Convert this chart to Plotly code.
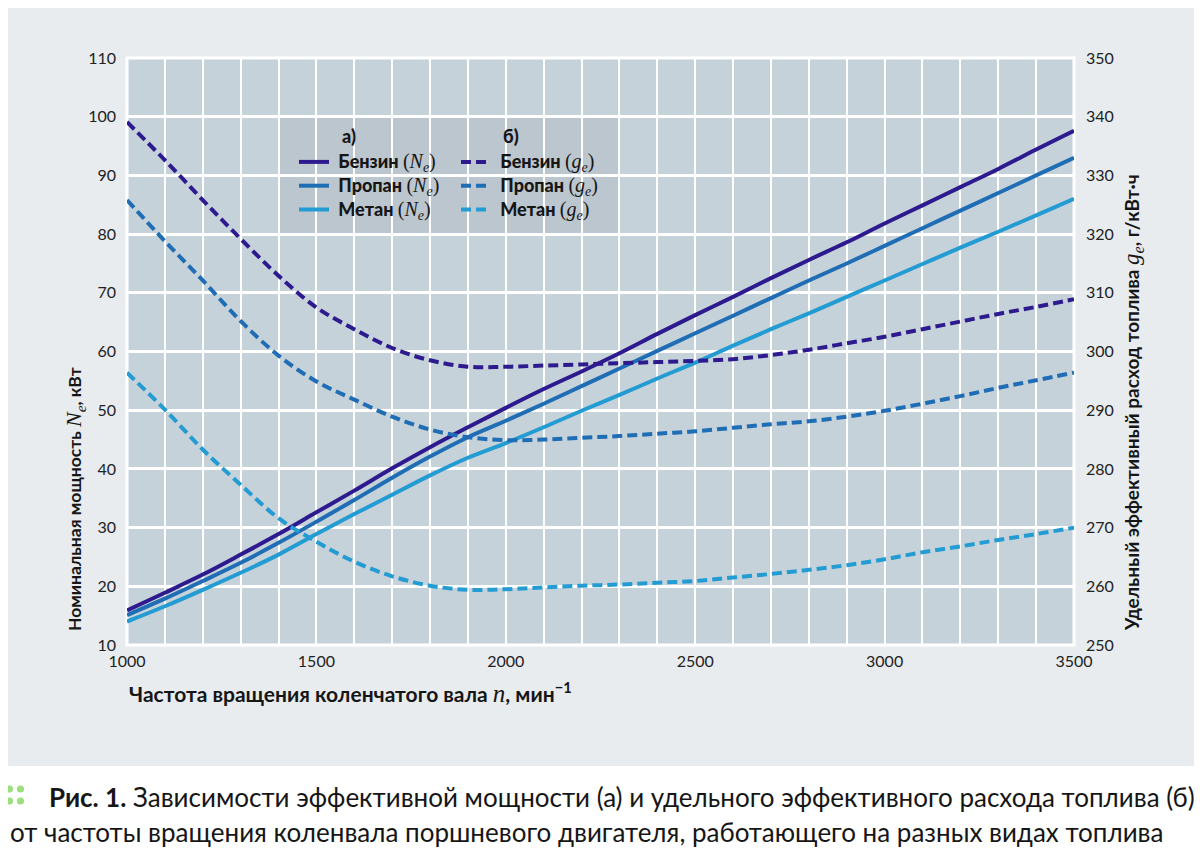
import plotly.graph_objects as go

# ---------------- data ----------------
rpm = [1000, 1100, 1200, 1300, 1400, 1500, 1600, 1700, 1800, 1900, 2000,
       2100, 2200, 2300, 2400, 2500, 2600, 2700, 2800, 2900, 3000,
       3100, 3200, 3300, 3400, 3500]

ne_benzin = [15.9, 18.9, 22.0, 25.4, 28.9, 32.6, 36.3, 40.1, 43.7, 47.1, 50.4,
             53.6, 56.6, 59.7, 63.0, 66.2, 69.3, 72.5, 75.6, 78.6, 81.8,
             84.9, 88.0, 91.1, 94.4, 97.6]
ne_propan = [15.1, 17.9, 20.9, 24.0, 27.4, 31.0, 34.7, 38.5, 42.1, 45.4, 48.2,
             51.1, 54.1, 57.1, 60.1, 63.1, 66.1, 69.1, 72.1, 75.0, 78.0,
             81.0, 84.0, 87.0, 90.0, 93.0]
ne_metan = [14.0, 16.6, 19.4, 22.3, 25.4, 28.9, 32.3, 35.6, 38.9, 41.9, 44.4,
            47.1, 49.9, 52.6, 55.4, 58.1, 61.0, 63.8, 66.5, 69.3, 72.1,
            74.9, 77.7, 80.4, 83.2, 86.0]

ge_benzin = [339.1, 332.6, 325.8, 319.2, 312.9, 307.5, 303.8, 300.6, 298.5, 297.4, 297.4,
             297.6, 297.8, 298.0, 298.2, 298.4, 298.7, 299.4, 300.3, 301.4, 302.5,
             303.8, 305.1, 306.4, 307.6, 308.9]
ge_propan = [325.8, 318.8, 312.1, 305.2, 299.3, 294.9, 291.8, 288.9, 286.7, 285.4, 284.9,
             285.0, 285.3, 285.6, 286.0, 286.4, 287.0, 287.6, 288.1, 288.9, 289.9,
             291.1, 292.4, 293.8, 295.1, 296.4]
ge_metan = [296.4, 290.1, 283.3, 277.3, 271.6, 267.6, 264.2, 261.7, 260.1, 259.4, 259.5,
            259.8, 260.1, 260.3, 260.6, 260.9, 261.5, 262.1, 262.8, 263.6, 264.6,
            265.8, 266.8, 267.9, 268.9, 270.0]

x_ticks = [1000, 1500, 2000, 2500, 3000, 3500]
y_left_ticks = [10, 20, 30, 40, 50, 60, 70, 80, 90, 100, 110]
y_right_ticks = [250, 260, 270, 280, 290, 300, 310, 320, 330, 340, 350]

fuels = ["Бензин", "Пропан", "Метан"]
colors = ["#2e1a8f", "#1f6db4", "#239bd3"]

# ---------------- style ----------------
SANS = "Lato, Roboto, sans-serif"
SERIF = "Liberation Serif, DejaVu Serif, serif"
TXT = "#161616"
OFF = 8                       # page offset of the figure (body margin)
W, H = 1202 - OFF, 855 - OFF
PL, PR, PT, PB = 127, 1074, 58, 645   # plot area in page pixels
L, T = PL - OFF, PT - OFF
R, B = W - (PR - OFF), H - (PB - OFF)
PW, PH = PR - PL, PB - PT


def px(x):          # page pixel -> paper
    return (x - PL) / PW


def py(y):
    return (PB - y) / PH


def math(s, sub, size=20, parens=False):
    core = "<i>%s</i><sub><i>%s</i></sub>" % (s, sub)
    if parens:
        core = "(" + core + ")"
    return ("<span style='font-family:%s;font-weight:normal;font-size:%dpx'>%s</span>"
            % (SERIF, size, core))


def legend_name(fuel, sym):
    return ("<span style='font-size:18px;font-weight:900'>\u00a0%s </span>%s"
            % (fuel, math(sym, "e", 20, parens=True)))


fig = go.Figure()

ne_series = [ne_benzin, ne_propan, ne_metan]
ge_series = [ge_benzin, ge_propan, ge_metan]
for i, f in enumerate(fuels):
    fig.add_trace(go.Scatter(
        x=rpm, y=ne_series[i], mode="lines", line_shape="spline",
        line=dict(color=colors[i], width=4),
        name=legend_name(f, "N"),
        legend="legend", legendgroup="a%d" % i, yaxis="y"))
for i, f in enumerate(fuels):
    fig.add_trace(go.Scatter(
        x=rpm, y=ge_series[i], mode="lines", line_shape="spline",
        line=dict(color=colors[i], width=4, dash="10px,5px"),
        name=legend_name(f, "g"),
        legend="legend2", legendgroup="b%d" % i, yaxis="y2"))

shapes = [
    # outer light panel
    dict(type="rect", xref="paper", yref="paper", layer="below",
         x0=px(4), x1=px(1196), y0=py(766), y1=py(0),
         fillcolor="#e8ecef", line=dict(width=0)),
    # plot area
    dict(type="rect", xref="paper", yref="paper", layer="below",
         x0=0, x1=1, y0=0, y1=1, fillcolor="#c6d2d9",
         line=dict(color="white", width=3)),
    # legend box
    dict(type="rect", xref="paper", yref="paper", layer="between",
         x0=px(279), x1=px(619), y0=py(233), y1=py(117),
         fillcolor="#bcc6ce", line=dict(width=0)),
]
for cx in (9.5, 20.5):
    for cy in (789, 801):
        shapes.append(dict(type="circle", xref="paper", yref="paper",
                           x0=px(cx - 3.6), x1=px(cx + 3.6),
                           y0=py(cy + 3.6), y1=py(cy - 3.6),
                           fillcolor="#9ddf7c", line=dict(width=0)))

annotations = [
    dict(text="<span style='font-weight:900'>а)</span>", x=px(340), y=py(136),
         xanchor="left", yanchor="middle", font=dict(size=18)),
    dict(text="<span style='font-weight:900'>б)</span>", x=px(501), y=py(136),
         xanchor="left", yanchor="middle", font=dict(size=18)),
    dict(text="<b>Номинальная мощность </b>" + math("N", "e", 22) + "<b>, кВт</b>",
         x=px(75), y=py(499), textangle=-90, xanchor="center", yanchor="middle",
         font=dict(size=17.5)),
    dict(text="<b>Удельный эффективный расход топлива </b>" + math("g", "e", 23) +
         "<b>, г/кВт·ч</b>",
         x=px(1133), y=py(403), textangle=-90, xanchor="center", yanchor="middle",
         font=dict(size=19)),
    dict(text="<b>Частота вращения коленчатого вала </b>" +
         "<span style='font-family:%s;font-size:25px'><i>n</i></span>" % SERIF +
         "<b>, мин<sup>−1</sup></b>",
         x=px(127), y=py(692), xanchor="left", yanchor="middle",
         font=dict(size=21)),
    dict(text="<b>Рис. 1.</b> Зависимости эффективной мощности (а) и удельного эффективного расхода топлива (б)",
         x=px(47), y=py(797), xanchor="left", yanchor="middle",
         font=dict(size=26)),
    dict(text="от частоты вращения коленвала поршневого двигателя, работающего на разных видах топлива",
         x=px(8), y=py(832), xanchor="left", yanchor="middle",
         font=dict(size=26)),
]
for a in annotations:
    a.setdefault("font", dict(size=17))
    a["font"].setdefault("family", SANS)
    a["font"].setdefault("color", TXT)
    a.update(xref="paper", yref="paper", showarrow=False)

legend_common = dict(
    bgcolor="rgba(0,0,0,0)", borderwidth=0, orientation="v",
    font=dict(family=SANS, size=16, color=TXT),
    itemwidth=30, tracegroupgap=0, itemclick=False, itemdoubleclick=False,
    xanchor="left", yanchor="top",
)

tickfont = dict(family=SANS, size=16, color="#222")
fig.update_layout(
    width=W, height=H,
    margin=dict(l=L, r=R, t=T, b=B, autoexpand=False),
    paper_bgcolor="white", plot_bgcolor="rgba(0,0,0,0)",
    showlegend=True,
    legend=dict(legend_common, x=px(294), y=py(145)),
    legend2=dict(legend_common, x=px(456), y=py(145)),
    font=dict(family=SANS, color=TXT),
    xaxis=dict(range=[1000, 3500], tickvals=x_ticks, ticktext=[str(v) for v in x_ticks],
               showgrid=True, gridcolor="white", gridwidth=2,
               minor=dict(dtick=100, showgrid=True, gridcolor="white", gridwidth=2),
               zeroline=False, showline=False, ticks="",
               tickfont=tickfont, ticklabelstandoff=5),
    yaxis=dict(range=[10, 110], tickvals=y_left_ticks,
               showgrid=True, gridcolor="white", gridwidth=2.5,
               zeroline=False, showline=False, ticks="",
               tickfont=tickfont, ticklabelstandoff=10),
    yaxis2=dict(range=[250, 350], tickvals=y_right_ticks, overlaying="y", side="right",
                showgrid=False, zeroline=False, showline=False, ticks="",
                tickfont=tickfont, ticklabelstandoff=11),
    shapes=shapes,
    annotations=annotations,
)

fig.write_html("out.html")
